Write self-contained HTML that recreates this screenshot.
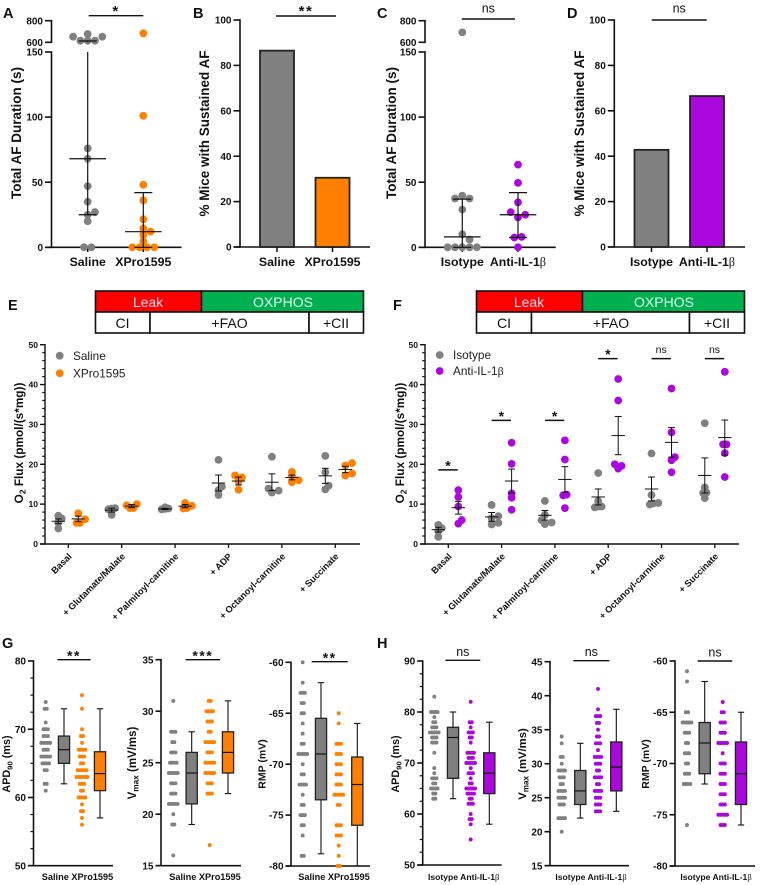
<!DOCTYPE html>
<html lang="en">
<head>
<meta charset="utf-8">
<title>AF duration, mitochondrial flux and action potential figure</title>
<style>
html,body{margin:0;padding:0;background:#fff}
svg{display:block;font-family:"Liberation Sans",sans-serif}
.letter{font-size:14.5px;font-weight:bold;fill:#111}
.hdr{font-size:14px;text-anchor:middle}
</style>
</head>
<body>
<svg id="figure" width="760" height="885" viewBox="0 0 760 885" xmlns="http://www.w3.org/2000/svg">
<rect x="0" y="0" width="760" height="885" fill="#fff"/>
<text class="letter" x="3" y="18">A</text>
<text class="letter" x="193" y="18">B</text>
<text class="letter" x="377" y="18">C</text>
<text class="letter" x="567" y="18">D</text>
<text class="letter" x="8" y="310">E</text>
<text class="letter" x="393" y="310">F</text>
<text class="letter" x="2" y="648">G</text>
<text class="letter" x="377" y="648">H</text>

<g stroke="#111" stroke-width="1.6">
<rect x="95.5" y="291" width="106" height="21" fill="#ff0000"/>
<rect x="201.5" y="291" width="162" height="21" fill="#00b050"/>
<rect x="95.5" y="312" width="54.5" height="21" fill="#fff"/>
<rect x="150" y="312" width="159" height="21" fill="#fff"/>
<rect x="309" y="312" width="54.5" height="21" fill="#fff"/>
</g>
<g>
<text class="hdr" x="148" y="307" fill="#fde">Leak</text>
<text class="hdr" x="283" y="307" fill="#dfe">OXPHOS</text>
<text class="hdr" x="122.5" y="328" fill="#111">CI</text>
<text class="hdr" x="229.5" y="328" fill="#111">+FAO</text>
<text class="hdr" x="336" y="328" fill="#111">+CII</text>
</g>
<g stroke="#111" stroke-width="1.6">
<rect x="476.5" y="291" width="106" height="21" fill="#ff0000"/>
<rect x="582.5" y="291" width="162" height="21" fill="#00b050"/>
<rect x="476.5" y="312" width="55" height="21" fill="#fff"/>
<rect x="531.5" y="312" width="158" height="21" fill="#fff"/>
<rect x="689.5" y="312" width="55" height="21" fill="#fff"/>
</g>
<g>
<text class="hdr" x="529" y="307" fill="#fde">Leak</text>
<text class="hdr" x="664" y="307" fill="#dfe">OXPHOS</text>
<text class="hdr" x="504" y="328" fill="#111">CI</text>
<text class="hdr" x="611" y="328" fill="#111">+FAO</text>
<text class="hdr" x="717" y="328" fill="#111">+CII</text>
</g>
</svg>

<script>
/* ---------- colours ---------- */
const GREY = '#808080', ORANGE = '#ff8000', PURPLE = '#aa08de', INK = '#111';

/* ---------- panels A / C : AF duration ---------- */
const durationUpperTicks = [800, 600];
const durationLowerTicks = [150, 100, 50, 0];
const panelACategories = ['Saline', 'XPro1595'];
const panelASalineValues = [0, 0, 20, 25, 27, 35, 47, 68, 76, 615, 615, 615, 652, 652, 677];
const panelAXProValues = [0, 0, 0, 0, 4.5, 9.5, 12, 14.5, 21.5, 36, 48, 101, 683];
/* low, median, high */
const panelASalineSummary = [25, 68, 612];
const panelAXProSummary = [0, 12, 42];
const panelCCategories = ['Isotype', 'Anti-IL-1β'];
const panelCIsotypeValues = [0, 0, 0, 0, 0, 6, 10, 29, 37.5, 37.5, 39.7, 692];
const panelCAntiValues = [0, 7.5, 8, 23, 25, 27, 34.5, 49.5, 63.5];
const panelCIsotypeSummary = [0, 8, 37];
const panelCAntiSummary = [7.5, 25, 42];

/* ---------- panels B / D : sustained AF ---------- */
const percentTicks = [100, 80, 60, 40, 20, 0];
const panelBValues = [86.5, 30.5];
const panelDValues = [42.8, 66.5];

/* ---------- panels E / F : O2 flux ---------- */
const fluxTicks = [50, 40, 30, 20, 10, 0];
const fluxCategories = ['Basal', '+ Glutamate/Malate', '+ Palmitoyl-carnitine', '+ ADP', '+ Octanoyl-carnitine', '+ Succinate'];
const panelESaline = [[7.1, 6.4, 5.4, 3.9], [9.0, 8.9, 8.7, 7.3], [9.2, 8.9, 8.8, 8.7], [21.1, 14.4, 13.5, 12.3], [21.9, 13.9, 13.4, 12.9], [22.1, 18, 14.6, 13.7]];
const panelEXPro = [[7.7, 6.2, 5.3, 5.3], [10.0, 9.7, 9.0, 9.0], [10.3, 9.6, 9.0, 8.9], [17.2, 16.7, 15.7, 13.6], [18.1, 17.0, 16.0, 15.5], [20.3, 19.7, 17.7, 17.2]];
const panelESalineMean = [5.7, 8.5, 8.8, 15.3, 15.5, 17.1];
const panelESalineSem = [0.6, 0.5, 0.15, 2.0, 2.1, 1.9];
const panelEXProMean = [6.3, 9.5, 9.5, 15.8, 16.7, 18.7];
const panelEXProSem = [0.7, 0.4, 0.4, 1.0, 0.6, 0.8];
const panelFIsotype = [[4.8, 4.0, 3.3, 1.8], [9.8, 7.0, 6.5, 5.3, 4.9], [10.8, 7.3, 6.0, 5.4, 5.0], [17.8, 10.8, 9.4, 9.4, 9.2], [22.7, 12.3, 10.3, 10.2, 9.9], [30.3, 14.2, 12.9, 12.8, 11.5]];
const panelFAnti = [[13.5, 11.8, 9.4, 6.0, 5.1], [25.4, 20.1, 12.7, 11.6, 8.6], [26, 21.2, 12.4, 12.2, 9.0], [41.4, 36, 20, 19.6, 18.9], [39, 28, 21.8, 21, 18], [43.2, 25, 25, 22.8, 16.8]];
const panelFIsotypeMean = [3.6, 6.8, 7.2, 11.8, 13.8, 17.2];
const panelFIsotypeSem = [0.6, 1.1, 1.2, 2.0, 3.0, 4.4];
const panelFAntiMean = [9.1, 15.8, 16.2, 27.2, 25.5, 26.7];
const panelFAntiSem = [1.6, 3.0, 3.2, 4.8, 3.7, 4.4];
const panelFSigLabels = ['*', '*', '*', '*', 'ns', 'ns'];
const panelFSigLevels = [18.6, 31, 31, 46.5, 46.5, 46.5];

/* ---------- panels G / H : cell electrophysiology (value levels, cells per level, box stats) ---------- */
const gApdTicks = [80, 70, 60, 50];
const gApdSalineLevels = [74, 73, 71, 70, 69, 68, 67, 66, 65, 64, 62, 61];
const gApdSalineCounts = [1, 2, 1, 3, 3, 5, 3, 5, 4, 2, 2, 1];
const gApdXProLevels = [75, 73, 70, 69, 68, 67, 66, 65, 64, 63, 62, 61, 60, 59, 58, 57, 56];
const gApdXProCounts = [1, 1, 1, 2, 1, 4, 3, 2, 5, 6, 3, 2, 4, 1, 2, 1, 1];
const gApdSalineBox = [62, 65, 67, 69, 73];
const gApdXProBox = [57, 61, 63.5, 66.7, 73];

const gVmaxTicks = [35, 30, 25, 20, 15];
const gVmaxSalineLevels = [31, 28, 27, 26, 25, 24, 23, 22, 21, 20, 19, 16];
const gVmaxSalineCounts = [1, 3, 2, 3, 4, 5, 3, 3, 5, 1, 2, 1];
const gVmaxXProLevels = [31, 30, 29, 28, 27, 26, 25, 24, 23, 22, 17];
const gVmaxXProCounts = [2, 4, 3, 2, 5, 3, 5, 5, 3, 3, 1];
const gVmaxSalineBox = [19, 21, 24, 26, 28];
const gVmaxXProBox = [22, 24, 26, 28, 31];

const rmpTicks = [-60, -65, -70, -75, -80];
const gRmpSalineLevels = [-60, -62, -63, -64, -65, -66, -67, -68, -69, -70, -71, -72, -73, -74, -75, -76, -77, -79];
const gRmpSalineCounts = [1, 1, 3, 2, 2, 1, 1, 2, 5, 1, 2, 4, 1, 2, 3, 2, 1, 2];
const gRmpXProLevels = [-65, -66, -68, -69, -70, -71, -72, -73, -74, -76, -77, -78, -79, -80];
const gRmpXProCounts = [1, 1, 3, 3, 3, 3, 3, 5, 2, 3, 3, 1, 1, 2];
const gRmpSalineBox = [-78.8, -73.5, -69, -65.5, -62];
const gRmpXProBox = [-80, -76, -72, -69.3, -66];

const hApdTicks = [90, 80, 70, 60, 50];
const hApdIsotypeLevels = [83, 80, 79, 78, 77, 76, 75, 74, 72, 69, 68, 67, 66, 65, 64, 63];
const hApdIsotypeCounts = [1, 4, 1, 2, 3, 5, 3, 3, 1, 1, 1, 3, 2, 4, 2, 2];
const hApdAntiLevels = [82, 78, 77, 76, 75, 74, 72, 71, 70, 69, 68, 67, 66, 65, 64, 63, 62, 60, 59, 58, 55];
const hApdAntiCounts = [1, 2, 1, 3, 2, 1, 4, 3, 5, 1, 3, 1, 2, 5, 4, 2, 3, 1, 2, 1, 1];
const hApdIsotypeBox = [63, 67, 75, 77, 80];
const hApdAntiBox = [58, 64, 68, 72, 78];

const hVmaxTicks = [45, 40, 35, 30, 25, 20, 15];
const hVmaxIsotypeLevels = [34, 33, 31, 30, 29, 28, 27, 26, 25, 24, 22, 20];
const hVmaxIsotypeCounts = [1, 1, 2, 1, 4, 3, 2, 4, 4, 3, 4, 1];
const hVmaxAntiLevels = [41, 38, 37, 36, 35, 34, 33, 32, 31, 30, 29, 28, 27, 26, 25, 24, 23];
const hVmaxAntiCounts = [1, 1, 3, 2, 1, 2, 3, 1, 4, 3, 2, 4, 2, 4, 3, 3, 3];
const hVmaxIsotypeBox = [22, 24, 26, 29, 33];
const hVmaxAntiBox = [23, 26, 29.5, 33.2, 38];

const hRmpIsotypeLevels = [-61, -62, -65, -66, -67, -68, -69, -70, -71, -72, -76];
const hRmpIsotypeCounts = [1, 1, 2, 5, 3, 2, 3, 2, 3, 4, 1];
const hRmpAntiLevels = [-64, -65, -66, -67, -68, -69, -70, -71, -72, -73, -74, -75, -76];
const hRmpAntiCounts = [1, 2, 3, 3, 5, 1, 3, 3, 3, 3, 3, 5, 3];
const hRmpIsotypeBox = [-72, -71, -68, -66, -62];
const hRmpAntiBox = [-76, -74, -71, -67.9, -65];

/* ---------- drawing helpers ---------- */
const NS = 'http://www.w3.org/2000/svg';
const fig = document.getElementById('figure');

function add(parent, tag, attrs, name) {
  const el = document.createElementNS(NS, tag);
  for (const k in attrs) el.setAttribute(k, attrs[k]);
  
  
  parent.appendChild(el);
  return el;
}
function panel(name) { return add(fig, 'g', {}, name); }
function line(p, x1, y1, x2, y2, w, name, color) {
  return add(p, 'line', { x1, y1, x2, y2, stroke: color || INK, 'stroke-width': w }, name);
}
function label(p, x, y, str, size, opts, name) {
  const o = opts || {};
  const attrs = { x, y, 'font-size': size, 'font-weight': o.weight || 'bold', fill: o.fill || INK, 'text-anchor': o.anchor || 'middle' };
  if (o.rotate !== undefined) attrs.transform = 'rotate(' + o.rotate + ' ' + x + ' ' + y + ')';
  if (o.spacing) attrs['letter-spacing'] = o.spacing;
  const el = add(p, 'text', attrs, name);
  const idx = str.indexOf('β');
  if (idx >= 0) {
    el.appendChild(document.createTextNode(str.slice(0, idx)));
    const ts = document.createElementNS(NS, 'tspan');
    ts.setAttribute('font-family', '"Liberation Serif",serif');
    ts.setAttribute('font-weight', 'normal');
    ts.textContent = 'β';
    el.appendChild(ts);
  } else {
    el.textContent = str;
  }
  return el;
}
function subTitle(p, x, y, before, sub, after, size, name) {
  const el = add(p, 'text', { x, y, 'font-size': size, 'font-weight': 'bold', fill: INK, 'text-anchor': 'middle', transform: 'rotate(-90 ' + x + ' ' + y + ')' }, name);
  el.appendChild(document.createTextNode(before));
  const a = document.createElementNS(NS, 'tspan');
  a.setAttribute('dy', size * 0.22);
  a.setAttribute('font-size', size * 0.72);
  a.textContent = sub;
  el.appendChild(a);
  const b = document.createElementNS(NS, 'tspan');
  b.setAttribute('dy', -size * 0.22);
  b.textContent = after;
  el.appendChild(b);
  return el;
}
function linear(d0, d1, r0, r1) { return v => r0 + (v - d0) * (r1 - r0) / (d1 - d0); }

function yAxis(p, x, y, ticks, minorPerGap, fontSize, tickLen, axisW) {
  const vals = ticks.slice().sort((a, b) => a - b);
  line(p, x, y(vals[vals.length - 1]) - axisW / 2, x, y(vals[0]) + axisW / 2, axisW, 'y-axis-line');
  ticks.forEach(t => {
    line(p, x - tickLen, y(t), x, y(t), axisW, 'y-tick');
    label(p, x - tickLen - 2, y(t) + fontSize * 0.36, String(t), fontSize, { anchor: 'end' }, 'y-tick-label');
  });
  for (let i = 0; i + 1 < vals.length; i++) {
    for (let m = 1; m <= minorPerGap; m++) {
      const v = vals[i] + (vals[i + 1] - vals[i]) * m / (minorPerGap + 1);
      line(p, x - tickLen * 0.55, y(v), x, y(v), 1.2, 'y-minor-tick');
    }
  }
}
/* place dots: rows of equal value spread symmetrically, avoiding overlap with placed dots */
function swarm(values, y, step, minD, topDown) {
  const sorted = values.slice().sort((a, b) => topDown ? b - a : a - b);
  const groups = [];
  sorted.forEach(v => {
    const g = groups[groups.length - 1];
    if (g && Math.abs(y(g[0]) - y(v)) < 1.2) g.push(v); else groups.push([v]);
  });
  const placed = [];
  const clear = (cx, cy) => placed.every(q => Math.hypot(q.cx - cx, q.cy - cy) >= minD);
  groups.forEach(g => {
    const n = g.length;
    let offs = null;
    if (n === 1) {
      for (const o of [0, step, -step, 2 * step, -2 * step]) {
        if (clear(o, y(g[0]))) { offs = [o]; break; }
      }
      if (!offs) offs = [0];
    } else {
      for (let m = 1; m <= 4; m++) {
        const c = g.map((v, i) => (i - (n - 1) / 2) * step * m);
        if (c.every(o => clear(o, y(g[0])))) { offs = c; break; }
      }
      if (!offs) offs = g.map((v, i) => (i - (n - 1) / 2) * step);
    }
    g.forEach((v, i) => placed.push({ v, cx: offs[i], cy: y(v) }));
  });
  return placed;
}
function dots(p, center, values, y, fill, r, step, minD, name, topDown) {
  swarm(values, y, step, minD, topDown).forEach(d => {
    add(p, 'circle', { cx: center + d.cx, cy: d.cy, r, fill }, name);
  });
}
function sig(p, x1, x2, y, str, size, baseY, name) {
  line(p, x1, y, x2, y, 1.4, name + '-line');
  const stars = str[0] === '*';
  label(p, (x1 + x2) / 2, baseY, str, size, stars ? { spacing: 1.5 } : { weight: 'normal' }, name + '-label');
}

/* ---------- panels A & C ---------- */
function durationPanel(name, ax, xEnd, c1, c2, cats, v1, v2, s1, s2, color, title, titleX, sigX1, sigX2, sigY, sigText, sigBase, topDown) {
  const p = panel(name);
  const yLow = linear(0, 150, 247.3, 52);
  const yUp = linear(600, 800, 42.3, 20.7);
  const y = v => v <= 150 ? yLow(v) : yUp(v);
  yAxis(p, ax, yUp, durationUpperTicks, 0, 10, 6.5, 1.6);
  yAxis(p, ax, yLow, durationLowerTicks, 0, 10, 6.5, 1.6);
  line(p, ax - 6.5, 247.3, xEnd, 247.3, 1.6, 'x-axis-line');
  [c1, c2].forEach((c, i) => {
    line(p, c, 247.3, c, 252, 1.5, 'x-tick');
    label(p, c, 266, cats[i], 12.3, {}, 'x-category-label');
  });
  dots(p, c1, v1, y, GREY, 3.9, 7.3, 5.5, 'dot-control', topDown);
  dots(p, c2, v2, y, color, 3.9, 7.3, 5.5, 'dot-treated');
  [[c1, s1], [c2, s2]].forEach(([c, s]) => {
    const hiY = y(s[2]);
    if (s[2] > 150) {
      line(p, c, y(s[0]), c, 52, 1.2, 'range-line');
      line(p, c, 42.3, c, hiY, 1.2, 'range-line');
    } else {
      line(p, c, y(s[0]), c, hiY, 1.2, 'range-line');
    }
    line(p, c - 9, hiY, c + 9, hiY, 1.2, 'upper-quartile-bar');
    line(p, c - 18.3, y(s[1]), c + 18.3, y(s[1]), 1.2, 'median-bar');
    line(p, c - 9, y(s[0]), c + 9, y(s[0]), 1.2, 'lower-quartile-bar');
  });
  label(p, titleX, 133, title, 13.5, { rotate: -90 }, 'y-axis-title');
  sig(p, sigX1, sigX2, sigY, sigText, sigText[0] === '*' ? 15 : 12.5, sigBase, 'significance');
}
durationPanel('panel-a', 51.5, 181.5, 87.7, 143.3, panelACategories, panelASalineValues, panelAXProValues, panelASalineSummary, panelAXProSummary, ORANGE, 'Total AF Duration (s)', 21, 88.7, 143.3, 15.7, '*', 16, false);
durationPanel('panel-c', 425, 555.7, 462.3, 518, panelCCategories, panelCIsotypeValues, panelCAntiValues, panelCIsotypeSummary, panelCAntiSummary, PURPLE, 'Total AF Duration (s)', 396, 461.7, 515, 19, 'ns', 12.5, true);

/* ---------- panels B & D ---------- */
function barPanel(name, ax, xEnd, c1, c2, cats, vals, color, titleX, sigX1, sigX2, sigText, sigBase) {
  const p = panel(name);
  const y = linear(0, 100, 247, 20);
  yAxis(p, ax, y, percentTicks, 0, 10, 6.5, 1.6);
  line(p, ax - 6.5, y(0), xEnd, y(0), 1.6, 'x-axis-line');
  [c1, c2].forEach((c, i) => {
    add(p, 'rect', { x: c - 17, y: y(vals[i]), width: 34, height: y(0) - y(vals[i]), fill: i === 0 ? GREY : color, stroke: '#222', 'stroke-width': 1.8 }, 'bar-' + cats[i].toLowerCase().replace(/[^a-z0-9]+/g, '-'));
    line(p, c, y(0), c, 252, 1.5, 'x-tick');
    label(p, c, 266, cats[i], 12.3, {}, 'x-category-label');
  });
  label(p, titleX, 133.5, '% Mice with Sustained AF', 13.5, { rotate: -90 }, 'y-axis-title');
  sig(p, sigX1, sigX2, sigText[0] === '*' ? 16 : 20, sigText, sigText[0] === '*' ? 15 : 12.5, sigBase, 'significance');
}
barPanel('panel-b', 240, 370, 277, 332.5, panelACategories, panelBValues, ORANGE, 209, 276, 336, '**', 16);
barPanel('panel-d', 614.3, 745, 651.5, 707, panelCCategories, panelDValues, PURPLE, 584, 651.7, 706.7, 'ns', 12.5);

/* ---------- panels E & F ---------- */
function fluxPanel(name, ax, xEnd, tick0, tickStep, groups1, groups2, m1, s1, m2, s2, color, legend1, legend2, legendY1, legendY2, titleX) {
  const p = panel(name);
  const y = linear(0, 50, 544, 344.7);
  yAxis(p, ax, y, fluxTicks, 4, 8.6, 5, 1.4);
  line(p, ax - 5, y(0), xEnd, y(0), 1.5, 'x-axis-line');
  fluxCategories.forEach((cat, i) => {
    const t = tick0 + i * tickStep;
    line(p, t, y(0), t, y(0) + 4, 1.3, 'x-tick');
    label(p, t + 4, 557, cat, 9.2, { anchor: 'end', rotate: -45 }, 'x-category-label');
    [[t - 10, groups1[i], GREY, m1[i], s1[i]], [t + 10, groups2[i], color, m2[i], s2[i]]].forEach(([c, vals, col, mean, sem]) => {
      dots(p, c, vals, y, col, 3.9, 3.4, 4.2, 'replicate-dot');
      line(p, c - 6.7, y(mean), c + 6.7, y(mean), 1, 'mean-bar');
      line(p, c, y(mean - sem), c, y(mean + sem), 1, 'sem-line');
      line(p, c - 3.4, y(mean + sem), c + 3.4, y(mean + sem), 1, 'sem-cap');
      line(p, c - 3.4, y(mean - sem), c + 3.4, y(mean - sem), 1, 'sem-cap');
    });
  });
  add(p, 'circle', { cx: ax + 14.7, cy: legendY1, r: 3.9, fill: GREY }, 'legend-marker-control');
  add(p, 'circle', { cx: ax + 14.7, cy: legendY2, r: 3.9, fill: color }, 'legend-marker-treated');
  label(p, ax + 28, legendY1 + 4.2, legend1, 11.8, { weight: 'normal', anchor: 'start', fill: '#222' }, 'legend-entry-control');
  label(p, ax + 28, legendY2 + 4.2, legend2, 11.8, { weight: 'normal', anchor: 'start', fill: '#222' }, 'legend-entry-treated');
  subTitle(p, titleX, 443, 'O', '2', ' Flux (pmol/(s*mg))', 11.8, 'y-axis-title');
  return { p, y };
}
fluxPanel('panel-e', 45, 360, 68.3, 53.4, panelESaline, panelEXPro, panelESalineMean, panelESalineSem, panelEXProMean, panelEXProSem, ORANGE, 'Saline', 'XPro1595', 355.7, 373.3, 23);
const fluxF = fluxPanel('panel-f', 425, 739, 448.3, 53.3, panelFIsotype, panelFAnti, panelFIsotypeMean, panelFIsotypeSem, panelFAntiMean, panelFAntiSem, PURPLE, 'Isotype', 'Anti-IL-1β', 355, 371, 404);
panelFSigLabels.forEach((s, i) => {
  const t = 448 + i * 53.3;
  const ly = fluxF.y(panelFSigLevels[i]);
  line(fluxF.p, t - 9.7, ly, t + 9.7, ly, 1.5, 'significance-line');
  if (s === '*') label(fluxF.p, t, ly + 0.5, s, 14, {}, 'significance-label');
  else label(fluxF.p, t, ly - 5.5, s, 10.5, { weight: 'normal' }, 'significance-label');
});

/* ---------- panels G & H ---------- */
function stripBox(p, y, cDots, cBox, levels, counts, box, color) {
  levels.forEach((lv, i) => {
    for (let j = 0; j < counts[i]; j++) {
      add(p, 'circle', { cx: cDots + (j - (counts[i] - 1) / 2) * 2.2, cy: y(lv), r: 1.95, fill: color }, 'cell-dot');
    }
  });
  const [lo, q1, med, q3, hi] = box;
  line(p, cBox, y(lo), cBox, y(hi), 1.1, 'whisker');
  line(p, cBox - 3.2, y(lo), cBox + 3.2, y(lo), 1.1, 'whisker-cap');
  line(p, cBox - 3.2, y(hi), cBox + 3.2, y(hi), 1.1, 'whisker-cap');
  add(p, 'rect', { x: cBox - 5.6, y: y(q3), width: 11.2, height: y(q1) - y(q3), fill: color, stroke: '#222', 'stroke-width': 1.3 }, 'box');
  line(p, cBox - 5.6, y(med), cBox + 5.6, y(med), 1.2, 'box-median');
}
function epPanel(name, ax, xEnd, yTop, yBottom, ticks, minor, centers, lv1, cnt1, box1, lv2, cnt2, box2, color, catLabel, catX, catSize, titleParts, titleSize, titleX, titleY, sigX1, sigX2, sigY, sigText) {
  const p = panel(name);
  const y = linear(ticks[ticks.length - 1], ticks[0], yBottom, yTop);
  yAxis(p, ax, y, ticks, minor, 10, 5.5, 1.6);
  line(p, ax - 5.5, yBottom, xEnd, yBottom, 1.6, 'x-axis-line');
  stripBox(p, y, centers[0], centers[1], lv1, cnt1, box1, GREY);
  stripBox(p, y, centers[2], centers[3], lv2, cnt2, box2, color);
  label(p, catX, 880, catLabel, catSize, {}, 'x-category-labels');
  if (titleParts.length === 3) subTitle(p, titleX, titleY, titleParts[0], titleParts[1], titleParts[2], titleSize, 'y-axis-title');
  else label(p, titleX, titleY, titleParts[0], titleSize, { rotate: -90 }, 'y-axis-title');
  const stars = sigText[0] === '*';
  sig(p, sigX1, sigX2, sigY, sigText, stars ? 14 : 12.5, stars ? sigY + 1 : sigY - 4.5, 'significance');
}
const gLabel = 'Saline XPro1595', hLabel = 'Isotype Anti-IL-1β';
epPanel('panel-g-apd', 33.5, 113, 661, 865.7, gApdTicks, 3, [45.7, 64, 82, 100], gApdSalineLevels, gApdSalineCounts, gApdSalineBox, gApdXProLevels, gApdXProCounts, gApdXProBox, ORANGE, gLabel, 77.5, 9.2, ['APD', '90', ' (ms)'], 10.8, 10, 764, 57.3, 90.7, 659.7, '**');
epPanel('panel-g-vmax', 161, 241, 659.7, 865.7, gVmaxTicks, 0, [173.3, 191.7, 209.7, 228], gVmaxSalineLevels, gVmaxSalineCounts, gVmaxSalineBox, gVmaxXProLevels, gVmaxXProCounts, gVmaxXProBox, ORANGE, gLabel, 205, 9.2, ['V', 'max', ' (mV/ms)'], 11.5, 136, 763, 185.7, 220, 659.7, '***');
epPanel('panel-g-rmp', 291, 370, 662.3, 866, rmpTicks, 0, [302.7, 321, 338.7, 357.3], gRmpSalineLevels, gRmpSalineCounts, gRmpSalineBox, gRmpXProLevels, gRmpXProCounts, gRmpXProBox, ORANGE, gLabel, 334, 9.2, ['RMP (mV)'], 10.5, 265.5, 764, 311.7, 347.7, 661.7, '**');
epPanel('panel-h-apd', 422.7, 501.7, 661, 865, hApdTicks, 3, [434.3, 453, 470.7, 489.3], hApdIsotypeLevels, hApdIsotypeCounts, hApdIsotypeBox, hApdAntiLevels, hApdAntiCounts, hApdAntiBox, PURPLE, hLabel, 463.7, 8.6, ['APD', '90', ' (ms)'], 10.8, 399, 764, 445.3, 480.3, 660.3, 'ns');
epPanel('panel-h-vmax', 550, 629, 661.7, 865.7, hVmaxTicks, 0, [561.7, 580.3, 598, 616.3], hVmaxIsotypeLevels, hVmaxIsotypeCounts, hVmaxIsotypeBox, hVmaxAntiLevels, hVmaxAntiCounts, hVmaxAntiBox, PURPLE, hLabel, 591, 8.6, ['V', 'max', ' (mV/ms)'], 11.3, 526, 764, 573.3, 609.3, 660.7, 'ns');
epPanel('panel-h-rmp', 675, 755, 661, 866, rmpTicks, 0, [687, 704.7, 722.7, 741], hRmpIsotypeLevels, hRmpIsotypeCounts, hRmpIsotypeBox, hRmpAntiLevels, hRmpAntiCounts, hRmpAntiBox, PURPLE, hLabel, 716, 8.6, ['RMP (mV)'], 10.5, 649, 764, 697.7, 732.3, 661, 'ns');
</script>
</body>
</html>
